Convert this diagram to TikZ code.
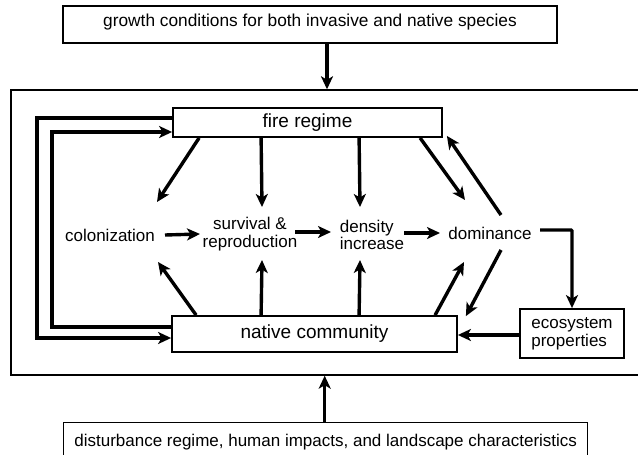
\documentclass[tikz,border=0pt]{standalone}
\usepackage{fontspec}
\setmainfont{Liberation Sans}
\usetikzlibrary{arrows.meta,calc}
\begin{document}
\begin{tikzpicture}[x=1pt,y=-1pt,
  every node/.style={font=\fontsize{17}{19}\selectfont},
  frame/.style={draw,line width=1.4pt,inner sep=0pt},
  boxlbl/.style={draw,line width=1.8pt,inner sep=0pt,font=\fontsize{19}{21}\selectfont},
  lbl/.style={inner sep=0pt,align=center},
  arr/.style={line width=3.4pt,-{Stealth[length=13pt,width=12pt,inset=3.5pt]}},
  link/.style={line width=3.4pt}
]
\useasboundingbox (0,0) rectangle (638,455);
% outer frames
\node[frame,minimum width=628pt,minimum height=285pt] (main) at (325,232.5) {};
\node[frame,minimum width=494pt,minimum height=37pt,text height=12pt,text depth=8.5pt,font=\fontsize{17.3}{19}\selectfont] (top) at (310,24.5) {growth conditions for both invasive and native species};
\node[frame,minimum width=524pt,minimum height=40pt,anchor=north west] (bot) at (63,422) {\raisebox{4pt}{disturbance regime, human impacts, and landscape characteristics}};
% boxes
\node[boxlbl,minimum width=269pt,minimum height=29pt] (fire) at (307.5,122.5) {fire regime};
\node[boxlbl,minimum width=285pt,minimum height=36pt] (native) at (314.5,334) {native community};
\node[frame,line width=1.8pt,minimum width=104pt,minimum height=49pt,align=left] (eco) at (572,333.5) {ecosystem\\[-1pt]properties};
% labels
\node[lbl] (col) at (110,235) {colonization};
\node[lbl] (surv) at (250,234) {survival \&\\[-1.5pt]reproduction};
\node[lbl,align=left] (dens) at (372,235) {density\\[-1.5pt]increase};
\node[lbl] (dom) at (490,233) {dominance};
% helper coordinates
\coordinate (topA) at ($(top.south)+(17,0)$);
\coordinate (botA) at ($(bot.north)+(-1,0)$);
\coordinate (ecoA) at ($(eco.west)+(0,1.5)$);
\coordinate (outerL) at (37,118);
\coordinate (innerL) at (52,132);
\coordinate (fireO) at ($(fire.west)+(0,-4.5)$);
\coordinate (fireI) at ($(fire.west)+(0,9.5)$);
\coordinate (natO) at ($(native.west)+(0,4)$);
\coordinate (natI) at ($(native.west)+(0,-7)$);
% external inputs
\draw[arr] (topA) -- (topA |- main.north);
\draw[arr] (botA) -- (botA |- main.south);
% horizontal chain
\draw[arr] ($(col.center)+(55,0)$) -- ($(surv.center)+(-50,0)$);
\draw[arr] ($(surv.center)+(45,-2)$) -- ($(dens.center)+(-41,-3)$);
\draw[arr] ($(dens.center)+(32,-2)$) -- ($(dom.center)+(-50,0)$);
% fire regime effects
\draw[arr] ($(fire.south west)+(27,0)$) -- ($(col.center)+(47,-33)$);
\draw[arr] ($(fire.south west)+(89,0)$) -- ($(surv.center)+(12,-27)$);
\draw[arr] ($(fire.south west)+(187,0)$) -- ($(dens.center)+(-12,-28)$);
\draw[arr] ($(fire.south west)+(248,0)$) -- ($(dom.center)+(-25,-33)$);
\draw[arr] ($(dom.center)+(11,-18)$) -- ($(fire.south east)+(4,-2)$);
% native community effects
\draw[arr] ($(native.north west)+(25,0)$) -- ($(col.center)+(48,27)$);
\draw[arr] ($(native.north west)+(90,0)$) -- ($(surv.center)+(12,26)$);
\draw[arr] ($(native.north west)+(188,0)$) -- ($(dens.center)+(-12,25)$);
\draw[arr] ($(native.north west)+(264,0)$) -- ($(dom.center)+(-26,29)$);
\draw[arr] ($(dom.center)+(11,17)$) -- ($(native.north east)+(8,1)$);
% ecosystem properties
\draw[arr,rounded corners=1pt] ($(dom.center)+(50,-3)$) -| (eco.north);
\draw[arr] (ecoA) -- (ecoA -| native.east);
% feedback loops on the left
\draw[arr] (fireO) -| (outerL |- natO) -- (natO);
\draw[arr] (natI) -| (innerL |- fireI) -- (fireI);
\end{tikzpicture}
\end{document}
